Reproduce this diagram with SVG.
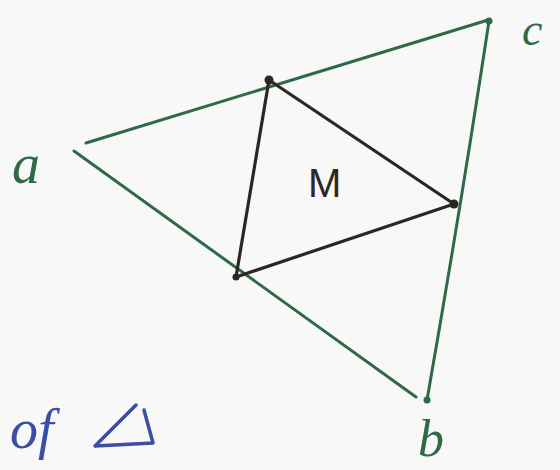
<svg xmlns="http://www.w3.org/2000/svg" width="560" height="470" viewBox="0 0 560 470">
<style>
.g{stroke:#2f6a47;stroke-width:3;fill:none;stroke-linecap:round}
.k{stroke:#2b2725;stroke-width:3.2;fill:none;stroke-linecap:round}
.gt{fill:#2f6a47;font-family:"Liberation Serif",serif;font-style:italic}
.kt{fill:#2b2725;font-family:"Liberation Sans",sans-serif}
.bt{fill:#3a4ea6;font-family:"Liberation Serif",serif;font-style:italic}
.dk{fill:#2b2725}
.dg{fill:#2f6a47}
</style>
<rect width="560" height="470" fill="#f8f8f9"/>
<g id="connectors">
<path class="g" d="M86,143 L488,20"/>
<path class="g" d="M489,21 Q462,200 427,400"/>
<path class="g" d="M74,151 L416,397"/>
<path class="k" d="M269,80 L454,204"/>
<path class="k" d="M454,204 L236,277"/>
<path class="k" d="M236,277 L269,80"/>
</g>
<g id="node-a"><text class="gt" x="12" y="183" font-size="56">a</text></g>
<g id="node-c"><circle class="dg" cx="489" cy="21" r="3.5"/><text class="gt" x="522" y="45" font-size="46">c</text></g>
<g id="node-b"><circle class="dg" cx="427" cy="400" r="3.5"/><text class="gt" x="418" y="456" font-size="52">b</text></g>
<g id="node-m1"><circle class="dk" cx="269" cy="80" r="4.5"/></g>
<g id="node-m2"><circle class="dk" cx="454" cy="204" r="4.5"/></g>
<g id="node-m3"><circle class="dk" cx="236" cy="277" r="3.5"/></g>
<g id="node-M"><text class="kt" x="308" y="197" font-size="40">M</text></g>
<g id="node-of"><text class="bt" x="10" y="448" font-size="56">of</text></g>
<g id="node-delta"><path d="M136,405 L95,446 L153,443 L144,410" stroke="#3a4ea6" stroke-width="3.5" fill="none" stroke-linecap="round" stroke-linejoin="round"/></g>
</svg>
